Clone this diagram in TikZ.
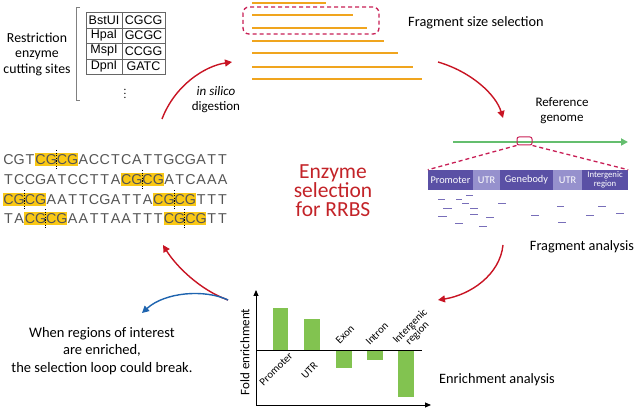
\documentclass[tikz,border=0pt]{standalone}
\usepackage{fontspec}
\setmainfont{Carlito}
\newfontfamily\arialfont{Liberation Sans}
\usetikzlibrary{arrows.meta}
\definecolor{loopred}{RGB}{200,20,35}
\definecolor{boxred}{RGB}{200,30,85}
\definecolor{titlered}{RGB}{195,35,40}
\definecolor{fragorange}{RGB}{240,165,30}
\definecolor{genomegreen}{RGB}{100,190,110}
\definecolor{bargreen}{RGB}{130,195,80}
\definecolor{segdark}{RGB}{90,80,165}
\definecolor{seglight}{RGB}{150,145,205}
\definecolor{readpurple}{RGB}{120,110,185}
\definecolor{hlyellow}{RGB}{250,200,20}
\definecolor{breakblue}{RGB}{30,100,175}
\definecolor{dnagray}{RGB}{85,85,85}
\tikzstyle{stage} = [font=\fontsize{14.3}{17.5}\selectfont, align=center, inner sep=0pt]
\tikzstyle{small} = [font=\fontsize{13}{15}\selectfont, align=center, inner sep=0pt]
\tikzstyle{looparrow} = [draw=loopred, line width=1.4pt, -{Triangle[length=7pt,width=7pt]}]
\tikzstyle{breakarrow} = [looparrow, draw=breakblue]
\tikzstyle{frag} = [draw=fragorange, line width=2.6pt]
\tikzstyle{seg} = [minimum height=20pt, inner sep=0pt, text=white, font=\fontsize{10.3}{10}\selectfont]
\tikzstyle{read} = [draw=readpurple, line width=1pt]
\tikzstyle{zoomline} = [draw=boxred, line width=1.3pt, dash pattern=on 4pt off 3pt]
\tikzstyle{bar} = [fill=bargreen]
\tikzstyle{axis} = [draw=black, line width=0.9pt, -{Triangle[length=6pt,width=5pt]}]
\tikzstyle{cat} = [font=\fontsize{10.8}{10}\selectfont, rotate=45, inner sep=0pt, align=center]
\tikzstyle{hl} = [fill=hlyellow]
\tikzstyle{cut} = [draw=black, line width=1pt, dash pattern=on 1.3pt off 1.3pt]
\tikzstyle{enz} = [font=\arialfont\fontsize{12.5}{14}\selectfont, inner sep=0pt]
\tikzstyle{dna} = [font=\arialfont\fontsize{14.3}{16}\selectfont, text=dnagray, inner sep=0pt, anchor=west]
% one box per base, so the letters sit on a fixed pitch
\def\bases#1{\basesi#1\relax}
\def\basesi#1{\ifx#1\relax\else\makebox[10.7pt]{#1}\expandafter\basesi\fi}

\begin{document}
\begin{tikzpicture}[x=1pt,y=-1pt]
    \useasboundingbox (0,0) rectangle (638,411);
    % enzyme table
    \node[small,font=\fontsize{13.8}{15.5}\selectfont](sites) at (37,54){Restriction\\enzyme\\cutting sites};
    \draw[gray,line width=0.8pt] (80,7) -- (76,7) -- (76,100) -- (80,100);
    \draw[gray!80!black,line width=0.7pt] (86,12) rectangle (165,74);
    \foreach \y in {28,43,59} \draw[gray!80!black,line width=0.7pt] (86,\y) -- (165,\y);
    \draw[gray!80!black,line width=0.7pt] (122,12) -- (122,74);
    \node[enz](bstui) at (104,20){BstUI};
    \node[enz](hpai) at (104,35.5){HpaI};
    \node[enz](mspi) at (104,51){MspI};
    \node[enz](dpni) at (104,66.5){DpnI};
    \node[enz](s1) at (143.5,20){CGCG};
    \node[enz](s2) at (143.5,35.5){GCGC};
    \node[enz](s3) at (143.5,51){CCGG};
    \node[enz](s4) at (143.5,66.5){GATC};
    \node[font=\fontsize{11}{12}\selectfont,inner sep=0pt](more) at (125,91){$\vdots$};
    % fragments
    \foreach \y/\e in {3/326,15/353,28/367,41/384,53/398,67/413,79/422}
        \draw[frag] (252,\y) -- (\e,\y);
    \draw[boxred,line width=1.3pt,dash pattern=on 4pt off 3pt,rounded corners=6pt] (243,7) rectangle (379,34);
    \node[stage](fss) at (476,23){Fragment size selection};
    % reference genome
    \node[small](ref) at (562,111){Reference\\genome};
    \draw[genomegreen,line width=2.5pt,-{Triangle[length=7pt,width=7pt]}] (453,142) -- (628,142);
    \node[draw=boxred,line width=1pt,rounded corners=2pt,minimum width=15pt,minimum height=8pt,inner sep=0pt](roi) at (524.5,141){};
    \node[seg,fill=segdark,minimum width=45pt](prom) at (450.5,180){Promoter};
    \node[seg,fill=seglight,minimum width=27pt](utr1) at (486.5,180){UTR};
    \node[seg,fill=segdark,minimum width=53pt](gene) at (526.5,180){Genebody};
    \node[seg,fill=seglight,minimum width=29pt](utr2) at (567.5,180){UTR};
    \node[seg,fill=segdark,minimum width=46pt,align=center,font=\fontsize{8.7}{8.5}\selectfont](inter) at (605,180){Intergenic\\region};
    \draw[zoomline] (roi.south west) -- (prom.north west);
    \draw[zoomline] (roi.south east) -- (inter.north east);
    \foreach \a/\b/\y in {438/445/200,456/462/200,466/473/196,443/452/209,470/478/209,462/469/204,
        438/447/217,470/478/215,486/494/218,455/463/224,479/487/227,498/506/204,531/539/216,
        557/564/207,558/566/223,586/594/216,598/606/207,616/624/214}
        \draw[read] (\a,\y) -- (\b,\y);
    \node[stage](fa) at (582,247){Fragment analysis};
    % title
    \node[align=center,inner sep=0pt,text=titlered,font=\fontsize{21.5}{19}\selectfont](title) at (333,191){Enzyme\\selection\\for RRBS};
    % sequences
    \foreach \i/\y in {3/160,11/180,0/200,14/200,2/219,15/219}
        \fill[hl] ({3+10.7*\i},{\y-6.5}) rectangle ++(42.8,13);
    \node[dna](dna1) at (3,160){\bases{CGTCGCGACCTCATTGCGATT}};
    \node[dna](dna2) at (3,180){\bases{TCCGATCCTTACGCGATCAAA}};
    \node[dna](dna3) at (3,200){\bases{CGCGAATTCGATTACGCGTTT}};
    \node[dna](dna4) at (3,219){\bases{TACGCGAATTAATTTCGCGTT}};
    \foreach \i/\y in {3/160,11/180,0/200,14/200,2/219,15/219}
        \draw[cut] ({3+10.7*\i+21.4},{\y-10}) -- ++(0,20);
    \node[small](silico) at (216,100){\textit{in silico}\\digestion};
    % enrichment chart
    \coordinate (origin) at (256,405);
    \coordinate (ytip) at (256,290);
    \coordinate (xtip) at (431,405);
    \coordinate (zl) at (256,350);
    \coordinate (zr) at (422,350);
    \fill[bar] (273,308) rectangle (288,350);
    \fill[bar] (304,319) rectangle (320,350);
    \fill[bar] (336,350) rectangle (352,368);
    \fill[bar] (367,350) rectangle (383,360);
    \fill[bar] (398,350) rectangle (414,397);
    \draw[line width=0.8pt] (zl) -- (zr);
    \draw[axis] (origin) -- (ytip);
    \draw[axis] (origin) -- (xtip);
    \node[cat](cprom) at (276,369){Promoter};
    \node[cat](cutr) at (309.5,370.5){UTR};
    \node[cat](cexon) at (345,334.5){Exon};
    \node[cat](cintron) at (377,334){Intron};
    \node[cat](cinter) at (414,330){Intergenic\\region};
    \node[stage,rotate=90,font=\fontsize{13}{15}\selectfont](fold) at (245,352){Fold enrichment};
    \node[stage](ea) at (497,380){Enrichment analysis};
    \node[stage,font=\fontsize{14.5}{17.5}\selectfont](when) at (102,351){When regions of interest\\are enriched,\\the selection loop could break.};
    % loop arrows
    \coordinate (digA) at (162,119);
    \coordinate (digB) at (232,62);
    \coordinate (selA) at (438,62);
    \coordinate (selB) at (503,118);
    \coordinate (anaA) at (503,245);
    \coordinate (anaB) at (438,300);
    \coordinate (enrA) at (228,300);
    \coordinate (enrB) at (163,245);
    \coordinate (brkB) at (142,313);
    \draw[looparrow] (digA) .. controls (175,85) and (205,66) .. (digB);
    \draw[looparrow] (selA) .. controls (472,72) and (496,95) .. (selB);
    \draw[looparrow] (anaA) .. controls (500,275) and (470,295) .. (anaB);
    \draw[looparrow] (enrA) .. controls (200,290) and (176,266) .. (enrB);
    \draw[breakarrow] (enrA) .. controls (205,289) and (165,292) .. (brkB);
  \end{tikzpicture}
\end{document}
